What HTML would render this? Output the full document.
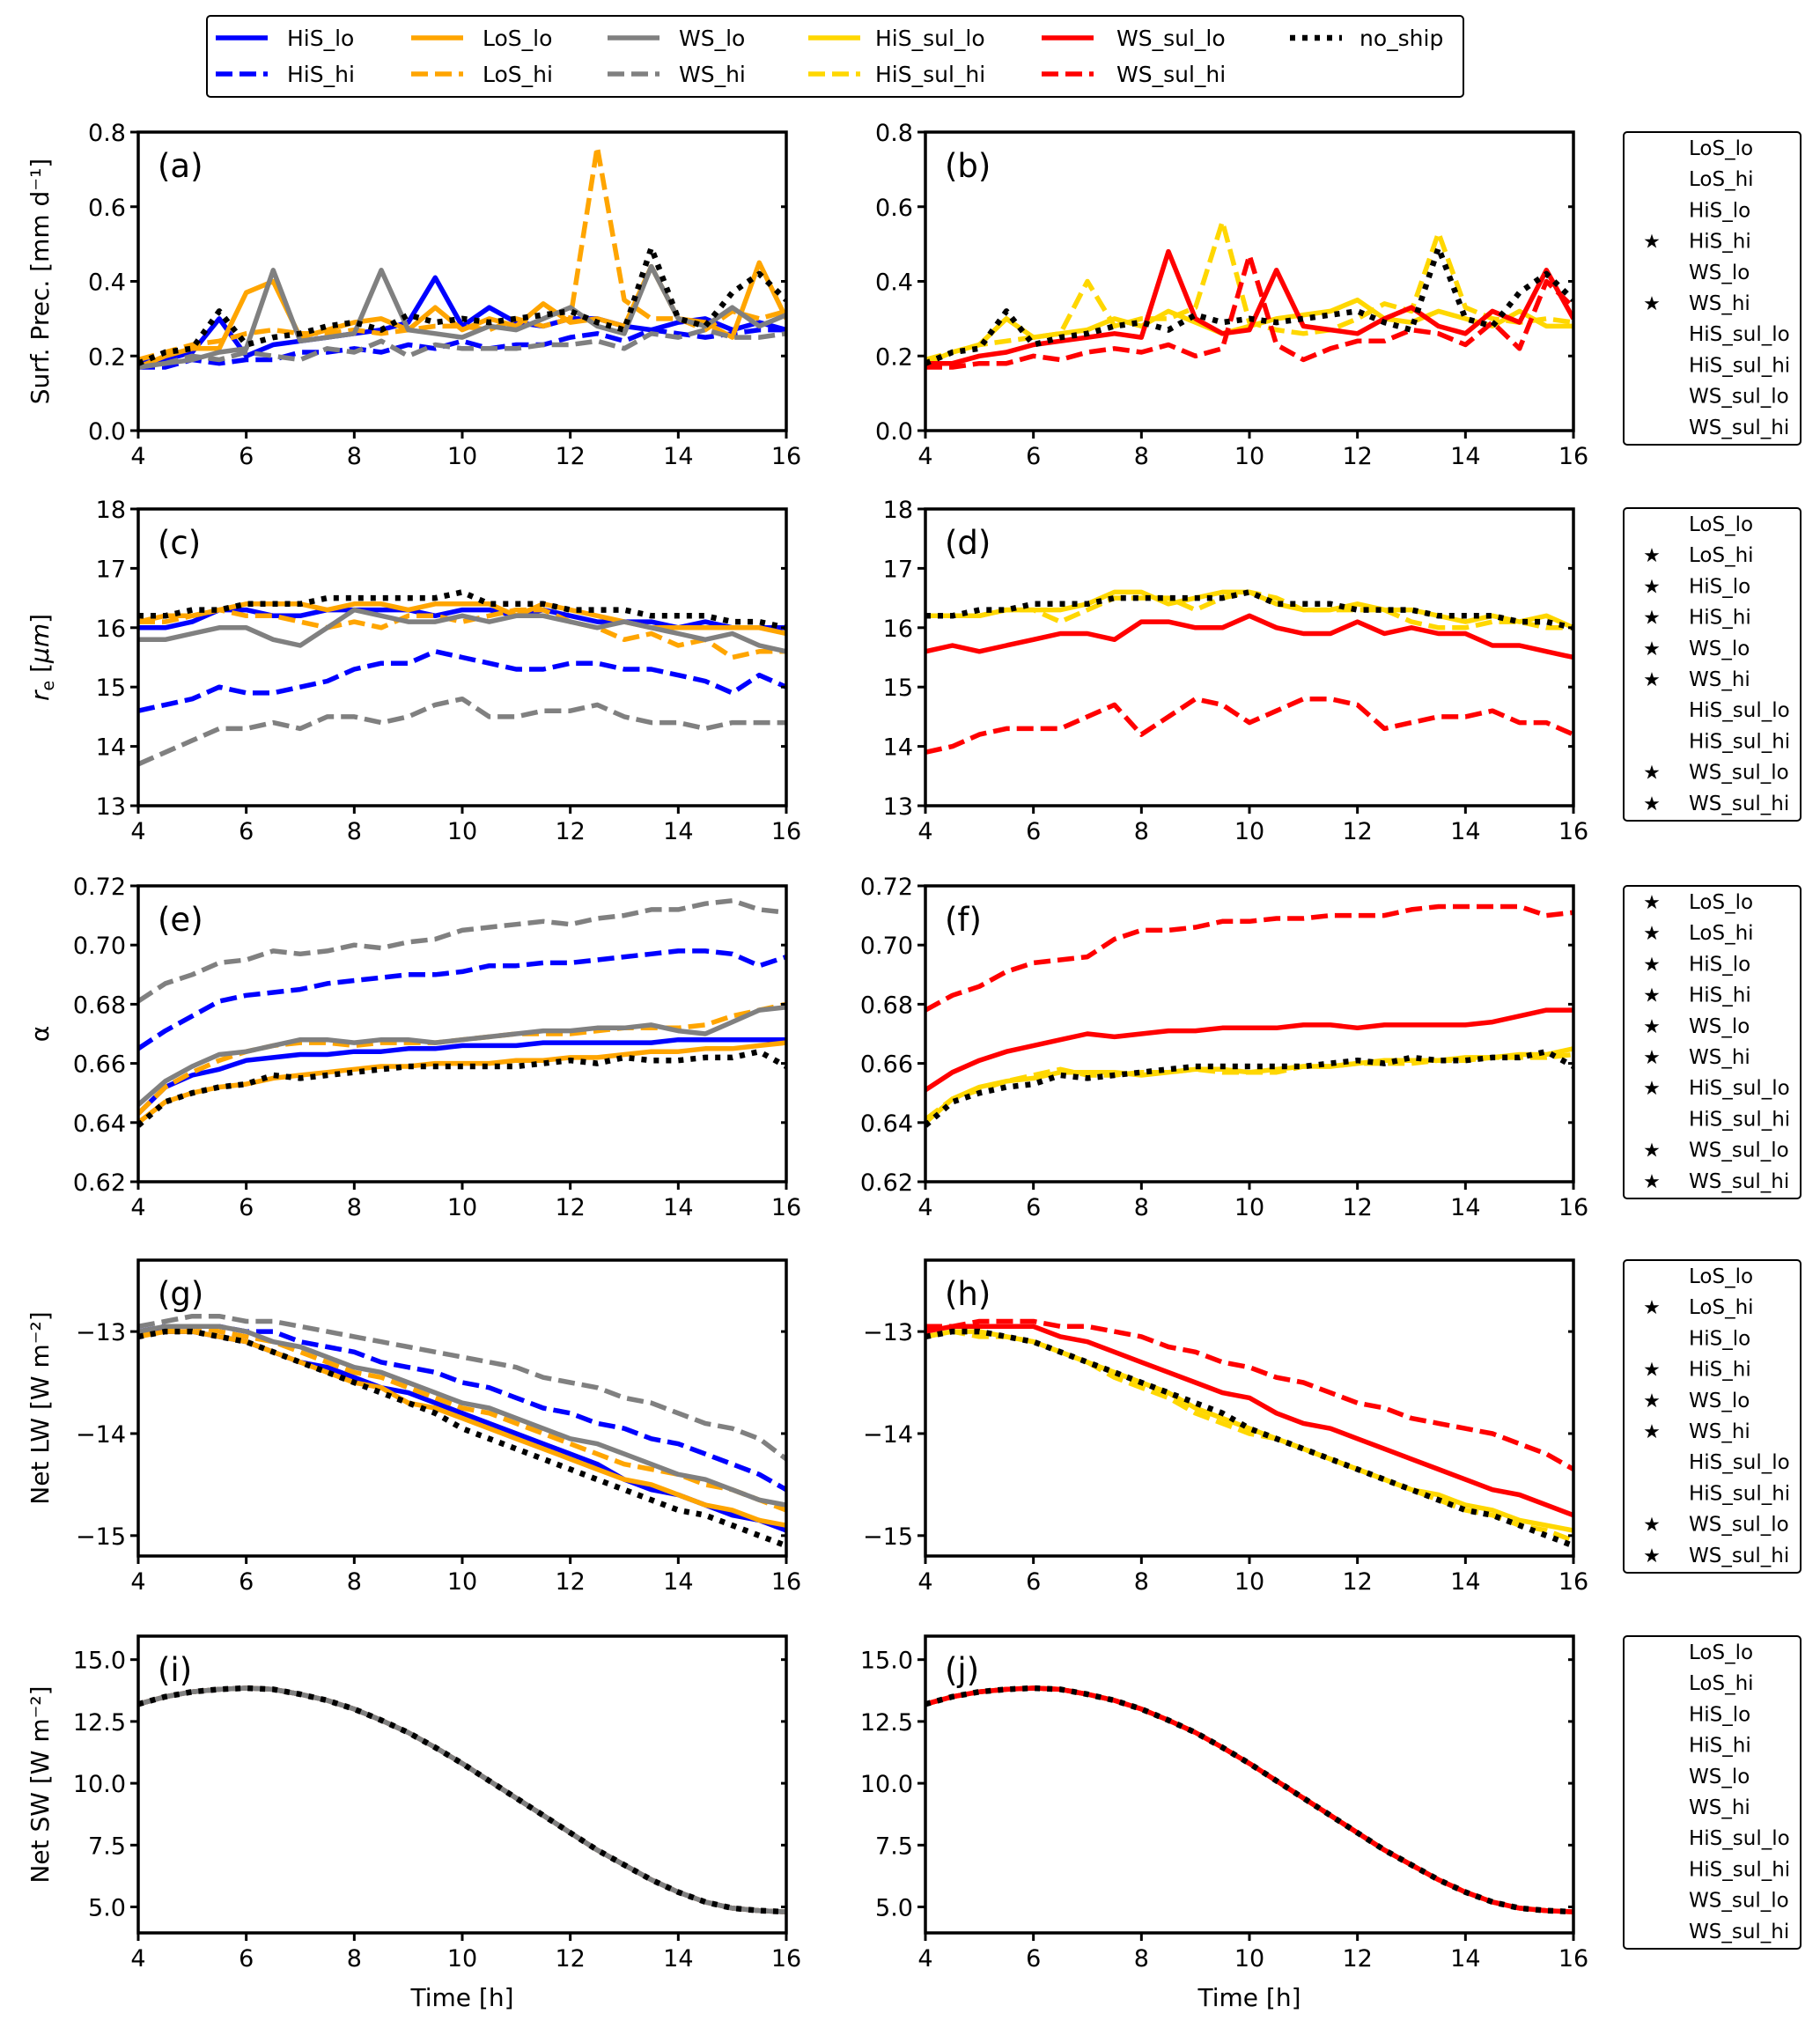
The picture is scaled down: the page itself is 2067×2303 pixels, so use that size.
<!DOCTYPE html>
<html><head><meta charset="utf-8"><style>
html,body{margin:0;padding:0;background:#fff}
svg{display:block}
text{font-family:"DejaVu Sans","Liberation Sans",sans-serif;fill:#000}
</style></head><body>
<svg id="fig" width="2067" height="2303" viewBox="0 0 2067 2303" xmlns="http://www.w3.org/2000/svg"></svg>
<script>
const times=[4,4.5,5,5.5,6,6.5,7,7.5,8,8.5,9,9.5,10,10.5,11,11.5,12,12.5,13,13.5,14,14.5,15,15.5,16];
const xTicks=[4,6,8,10,12,14,16];
// precip
const pa_HiS_lo=[0.18,0.19,0.21,0.30,0.20,0.23,0.24,0.25,0.26,0.27,0.29,0.41,0.28,0.33,0.29,0.28,0.30,0.30,0.28,0.27,0.29,0.30,0.27,0.29,0.27];
const pa_HiS_hi=[0.17,0.17,0.19,0.18,0.19,0.19,0.21,0.21,0.22,0.21,0.23,0.22,0.24,0.22,0.23,0.23,0.25,0.26,0.24,0.27,0.26,0.25,0.26,0.27,0.27];
const pa_LoS_lo=[0.17,0.20,0.22,0.22,0.37,0.40,0.25,0.27,0.29,0.30,0.27,0.33,0.27,0.30,0.28,0.34,0.29,0.30,0.28,0.44,0.30,0.29,0.25,0.45,0.30];
const pa_LoS_hi=[0.19,0.21,0.23,0.24,0.26,0.27,0.26,0.26,0.27,0.26,0.27,0.28,0.28,0.27,0.30,0.28,0.30,0.76,0.35,0.30,0.30,0.27,0.32,0.30,0.32];
const pa_WS_lo=[0.17,0.18,0.19,0.21,0.22,0.43,0.24,0.25,0.26,0.43,0.27,0.26,0.25,0.28,0.27,0.30,0.33,0.28,0.26,0.44,0.30,0.28,0.33,0.28,0.31];
const pa_WS_hi=[0.17,0.18,0.20,0.19,0.21,0.20,0.19,0.22,0.21,0.24,0.20,0.23,0.22,0.22,0.22,0.23,0.23,0.24,0.22,0.26,0.25,0.27,0.25,0.25,0.26];
const p_no_ship=[0.18,0.21,0.22,0.32,0.23,0.25,0.26,0.28,0.29,0.27,0.31,0.29,0.30,0.29,0.30,0.31,0.32,0.29,0.27,0.49,0.30,0.28,0.37,0.42,0.35];
const pb_HiS_sul_lo=[0.18,0.21,0.23,0.30,0.25,0.26,0.27,0.30,0.28,0.32,0.29,0.26,0.28,0.30,0.31,0.32,0.35,0.30,0.29,0.32,0.30,0.28,0.32,0.28,0.28];
const pb_HiS_sul_hi=[0.19,0.21,0.23,0.24,0.25,0.26,0.40,0.28,0.30,0.30,0.33,0.56,0.29,0.27,0.26,0.27,0.30,0.34,0.32,0.53,0.33,0.30,0.29,0.30,0.29];
const pb_WS_sul_lo=[0.18,0.18,0.20,0.21,0.23,0.24,0.25,0.26,0.25,0.48,0.30,0.26,0.27,0.43,0.28,0.27,0.26,0.30,0.33,0.28,0.26,0.32,0.29,0.43,0.30];
const pb_WS_sul_hi=[0.17,0.17,0.18,0.18,0.20,0.19,0.21,0.22,0.21,0.23,0.20,0.22,0.47,0.23,0.19,0.22,0.24,0.24,0.27,0.26,0.23,0.29,0.22,0.40,0.33];
// re
const rc_HiS_lo=[16.0,16.0,16.1,16.3,16.3,16.2,16.2,16.3,16.3,16.3,16.3,16.2,16.3,16.3,16.2,16.3,16.2,16.1,16.1,16.1,16.0,16.1,16.0,16.0,16.0];
const rc_HiS_hi=[14.6,14.7,14.8,15.0,14.9,14.9,15.0,15.1,15.3,15.4,15.4,15.6,15.5,15.4,15.3,15.3,15.4,15.4,15.3,15.3,15.2,15.1,14.9,15.2,15.0];
const rc_LoS_lo=[16.1,16.2,16.2,16.3,16.4,16.4,16.4,16.3,16.4,16.4,16.3,16.4,16.4,16.4,16.2,16.4,16.3,16.2,16.1,16.0,16.0,16.0,16.0,16.0,15.9];
const rc_LoS_hi=[16.1,16.1,16.2,16.3,16.2,16.2,16.1,16.0,16.1,16.0,16.2,16.2,16.1,16.2,16.3,16.3,16.1,16.0,15.8,15.9,15.7,15.8,15.5,15.6,15.6];
const rc_WS_lo=[15.8,15.8,15.9,16.0,16.0,15.8,15.7,16.0,16.3,16.2,16.1,16.1,16.2,16.1,16.2,16.2,16.1,16.0,16.1,16.0,15.9,15.8,15.9,15.7,15.6];
const rc_WS_hi=[13.7,13.9,14.1,14.3,14.3,14.4,14.3,14.5,14.5,14.4,14.5,14.7,14.8,14.5,14.5,14.6,14.6,14.7,14.5,14.4,14.4,14.3,14.4,14.4,14.4];
const r_no_ship=[16.2,16.2,16.3,16.3,16.4,16.4,16.4,16.5,16.5,16.5,16.5,16.5,16.6,16.4,16.4,16.4,16.3,16.3,16.3,16.2,16.2,16.2,16.1,16.1,16.0];
const rd_HiS_sul_lo=[16.2,16.2,16.2,16.3,16.3,16.3,16.4,16.6,16.6,16.4,16.5,16.6,16.6,16.4,16.3,16.3,16.4,16.3,16.3,16.2,16.1,16.2,16.1,16.2,16.0];
const rd_HiS_sul_hi=[16.2,16.2,16.2,16.3,16.3,16.1,16.3,16.5,16.5,16.5,16.3,16.5,16.6,16.5,16.3,16.3,16.3,16.3,16.1,16.0,16.0,16.1,16.1,16.0,16.0];
const rd_WS_sul_lo=[15.6,15.7,15.6,15.7,15.8,15.9,15.9,15.8,16.1,16.1,16.0,16.0,16.2,16.0,15.9,15.9,16.1,15.9,16.0,15.9,15.9,15.7,15.7,15.6,15.5];
const rd_WS_sul_hi=[13.9,14.0,14.2,14.3,14.3,14.3,14.5,14.7,14.2,14.5,14.8,14.7,14.4,14.6,14.8,14.8,14.7,14.3,14.4,14.5,14.5,14.6,14.4,14.4,14.2];
// albedo
const ae_HiS_lo=[.643,.652,.656,.658,.661,.662,.663,.663,.664,.664,.665,.665,.666,.666,.666,.667,.667,.667,.667,.667,.668,.668,.668,.668,.668];
const ae_HiS_hi=[.665,.671,.676,.681,.683,.684,.685,.687,.688,.689,.690,.690,.691,.693,.693,.694,.694,.695,.696,.697,.698,.698,.697,.693,.696];
const ae_LoS_lo=[.640,.647,.650,.652,.653,.655,.656,.657,.658,.659,.659,.660,.660,.660,.661,.661,.662,.662,.663,.664,.664,.665,.665,.666,.667];
const ae_LoS_hi=[.643,.652,.657,.661,.664,.666,.667,.667,.666,.667,.667,.667,.668,.669,.670,.670,.670,.671,.672,.672,.672,.673,.676,.678,.680];
const ae_WS_lo=[.646,.654,.659,.663,.664,.666,.668,.668,.667,.668,.668,.667,.668,.669,.670,.671,.671,.672,.672,.673,.671,.670,.674,.678,.679];
const ae_WS_hi=[.681,.687,.690,.694,.695,.698,.697,.698,.700,.699,.701,.702,.705,.706,.707,.708,.707,.709,.710,.712,.712,.714,.715,.712,.711];
const a_no_ship=[.639,.647,.650,.652,.653,.656,.655,.656,.657,.658,.659,.659,.659,.659,.659,.660,.661,.660,.662,.661,.661,.662,.662,.664,.659];
const af_HiS_sul_lo=[.640,.648,.652,.654,.655,.657,.657,.657,.656,.657,.658,.658,.657,.658,.659,.659,.660,.661,.661,.661,.662,.662,.663,.663,.665];
const af_HiS_sul_hi=[.641,.648,.651,.654,.656,.658,.656,.656,.657,.657,.658,.657,.657,.657,.659,.659,.660,.660,.660,.661,.661,.662,.662,.662,.663];
const af_WS_sul_lo=[.651,.657,.661,.664,.666,.668,.670,.669,.670,.671,.671,.672,.672,.672,.673,.673,.672,.673,.673,.673,.673,.674,.676,.678,.678];
const af_WS_sul_hi=[.678,.683,.686,.691,.694,.695,.696,.702,.705,.705,.706,.708,.708,.709,.709,.710,.710,.710,.712,.713,.713,.713,.713,.710,.711];
// LW
const lg_HiS_lo=[-13.0,-13.0,-13.0,-13.05,-13.1,-13.2,-13.3,-13.35,-13.45,-13.55,-13.6,-13.7,-13.8,-13.9,-14.0,-14.1,-14.2,-14.3,-14.45,-14.55,-14.6,-14.7,-14.8,-14.85,-14.95];
const lg_HiS_hi=[-13.0,-12.95,-12.95,-12.95,-13.0,-13.0,-13.1,-13.15,-13.2,-13.3,-13.35,-13.4,-13.5,-13.55,-13.65,-13.75,-13.8,-13.9,-13.95,-14.05,-14.1,-14.2,-14.3,-14.4,-14.55];
const lg_LoS_lo=[-13.05,-13.0,-13.0,-13.05,-13.1,-13.2,-13.3,-13.4,-13.5,-13.55,-13.7,-13.75,-13.85,-13.95,-14.05,-14.15,-14.25,-14.35,-14.45,-14.5,-14.6,-14.7,-14.75,-14.85,-14.9];
const lg_LoS_hi=[-13.0,-13.0,-12.95,-13.0,-13.05,-13.1,-13.2,-13.3,-13.4,-13.45,-13.55,-13.65,-13.75,-13.8,-13.9,-14.0,-14.1,-14.2,-14.3,-14.35,-14.4,-14.5,-14.55,-14.65,-14.75];
const lg_WS_lo=[-13.0,-12.95,-12.95,-12.95,-13.0,-13.1,-13.15,-13.25,-13.35,-13.4,-13.5,-13.6,-13.7,-13.75,-13.85,-13.95,-14.05,-14.1,-14.2,-14.3,-14.4,-14.45,-14.55,-14.65,-14.7];
const lg_WS_hi=[-12.95,-12.9,-12.85,-12.85,-12.9,-12.9,-12.95,-13.0,-13.05,-13.1,-13.15,-13.2,-13.25,-13.3,-13.35,-13.45,-13.5,-13.55,-13.65,-13.7,-13.8,-13.9,-13.95,-14.05,-14.25];
const l_no_ship=[-13.05,-13.0,-13.0,-13.05,-13.1,-13.2,-13.3,-13.4,-13.5,-13.6,-13.7,-13.8,-13.95,-14.05,-14.15,-14.25,-14.35,-14.45,-14.55,-14.65,-14.75,-14.8,-14.9,-15.0,-15.1];
const lh_HiS_sul_lo=[-13.05,-13.0,-13.0,-13.05,-13.1,-13.2,-13.3,-13.4,-13.5,-13.6,-13.75,-13.85,-13.95,-14.05,-14.15,-14.25,-14.35,-14.45,-14.55,-14.6,-14.7,-14.75,-14.85,-14.9,-14.95];
const lh_HiS_sul_hi=[-13.05,-13.0,-13.05,-13.05,-13.1,-13.2,-13.3,-13.45,-13.55,-13.65,-13.8,-13.9,-14.0,-14.05,-14.15,-14.25,-14.35,-14.45,-14.55,-14.65,-14.75,-14.8,-14.9,-14.95,-15.05];
const lh_WS_sul_lo=[-13.0,-12.95,-12.95,-12.95,-12.95,-13.05,-13.1,-13.2,-13.3,-13.4,-13.5,-13.6,-13.65,-13.8,-13.9,-13.95,-14.05,-14.15,-14.25,-14.35,-14.45,-14.55,-14.6,-14.7,-14.8];
const lh_WS_sul_hi=[-12.95,-12.95,-12.9,-12.9,-12.9,-12.95,-12.95,-13.0,-13.05,-13.15,-13.2,-13.3,-13.35,-13.45,-13.5,-13.6,-13.7,-13.75,-13.85,-13.9,-13.95,-14.0,-14.1,-14.2,-14.35];
// SW (all experiments nearly identical)
const sw_values=[13.2,13.5,13.7,13.8,13.85,13.8,13.6,13.35,13.0,12.55,12.05,11.45,10.8,10.1,9.4,8.7,8.0,7.3,6.7,6.1,5.6,5.2,4.95,4.85,4.8];

const NS="http://www.w3.org/2000/svg";
const svg=document.getElementById('fig');
function el(tag,attrs,parent){const e=document.createElementNS(NS,tag);for(const k in attrs)e.setAttribute(k,attrs[k]);(parent||svg).appendChild(e);return e;}

const DASH='19,8',DOT='6,8';
const styles={
 HiS_lo:{c:'#0000ff',d:null},HiS_hi:{c:'#0000ff',d:DASH},
 LoS_lo:{c:'#ffa500',d:null},LoS_hi:{c:'#ffa500',d:DASH},
 WS_lo:{c:'#808080',d:null},WS_hi:{c:'#808080',d:DASH},
 HiS_sul_lo:{c:'#ffd700',d:null},HiS_sul_hi:{c:'#ffd700',d:DASH},
 WS_sul_lo:{c:'#ff0000',d:null},WS_sul_hi:{c:'#ff0000',d:DASH},
 no_ship:{c:'#000000',d:DOT}
};
const colL=157,colR=893,colL2=1051,colR2=1787;
const rows=[[150,489],[578,915],[1006,1342],[1431,1767],[1858,2195]];
const panels=[
 {id:'a',col:0,row:0,ymin:0,ymax:0.8,ticks:[0,0.2,0.4,0.6,0.8],fmt:v=>v.toFixed(1),series:{HiS_lo:pa_HiS_lo,HiS_hi:pa_HiS_hi,LoS_lo:pa_LoS_lo,LoS_hi:pa_LoS_hi,WS_lo:pa_WS_lo,WS_hi:pa_WS_hi,no_ship:p_no_ship}},
 {id:'b',col:1,row:0,ymin:0,ymax:0.8,ticks:[0,0.2,0.4,0.6,0.8],fmt:v=>v.toFixed(1),series:{HiS_sul_lo:pb_HiS_sul_lo,HiS_sul_hi:pb_HiS_sul_hi,WS_sul_lo:pb_WS_sul_lo,WS_sul_hi:pb_WS_sul_hi,no_ship:p_no_ship}},
 {id:'c',col:0,row:1,ymin:13,ymax:18,ticks:[13,14,15,16,17,18],fmt:v=>String(v),series:{HiS_lo:rc_HiS_lo,HiS_hi:rc_HiS_hi,LoS_lo:rc_LoS_lo,LoS_hi:rc_LoS_hi,WS_lo:rc_WS_lo,WS_hi:rc_WS_hi,no_ship:r_no_ship}},
 {id:'d',col:1,row:1,ymin:13,ymax:18,ticks:[13,14,15,16,17,18],fmt:v=>String(v),series:{HiS_sul_lo:rd_HiS_sul_lo,HiS_sul_hi:rd_HiS_sul_hi,WS_sul_lo:rd_WS_sul_lo,WS_sul_hi:rd_WS_sul_hi,no_ship:r_no_ship}},
 {id:'e',col:0,row:2,ymin:0.62,ymax:0.72,ticks:[0.62,0.64,0.66,0.68,0.70,0.72],fmt:v=>v.toFixed(2),series:{HiS_lo:ae_HiS_lo,HiS_hi:ae_HiS_hi,LoS_lo:ae_LoS_lo,LoS_hi:ae_LoS_hi,WS_lo:ae_WS_lo,WS_hi:ae_WS_hi,no_ship:a_no_ship}},
 {id:'f',col:1,row:2,ymin:0.62,ymax:0.72,ticks:[0.62,0.64,0.66,0.68,0.70,0.72],fmt:v=>v.toFixed(2),series:{HiS_sul_lo:af_HiS_sul_lo,HiS_sul_hi:af_HiS_sul_hi,WS_sul_lo:af_WS_sul_lo,WS_sul_hi:af_WS_sul_hi,no_ship:a_no_ship}},
 {id:'g',col:0,row:3,ymin:-15.2,ymax:-12.3,ticks:[-15,-14,-13],fmt:v=>'\u2212'+Math.abs(v),series:{HiS_lo:lg_HiS_lo,HiS_hi:lg_HiS_hi,LoS_lo:lg_LoS_lo,LoS_hi:lg_LoS_hi,WS_lo:lg_WS_lo,WS_hi:lg_WS_hi,no_ship:l_no_ship}},
 {id:'h',col:1,row:3,ymin:-15.2,ymax:-12.3,ticks:[-15,-14,-13],fmt:v=>'\u2212'+Math.abs(v),series:{HiS_sul_lo:lh_HiS_sul_lo,HiS_sul_hi:lh_HiS_sul_hi,WS_sul_lo:lh_WS_sul_lo,WS_sul_hi:lh_WS_sul_hi,no_ship:l_no_ship}},
 {id:'i',col:0,row:4,ymin:3.95,ymax:15.95,ticks:[5,7.5,10,12.5,15],fmt:v=>v.toFixed(1),series:{HiS_lo:sw_values,HiS_hi:sw_values,LoS_lo:sw_values,LoS_hi:sw_values,WS_lo:sw_values,WS_hi:sw_values,no_ship:sw_values}},
 {id:'j',col:1,row:4,ymin:3.95,ymax:15.95,ticks:[5,7.5,10,12.5,15],fmt:v=>v.toFixed(1),series:{HiS_sul_lo:sw_values,HiS_sul_hi:sw_values,WS_sul_lo:sw_values,WS_sul_hi:sw_values,no_ship:sw_values}}
];
const yTitles=['Surf. Prec. [mm d\u207B\u00B9]',null,'r_e',null,'\u03B1',null,'Net LW [W m\u207B\u00B2]',null,'Net SW [W m\u207B\u00B2]',null];

const defs=el('defs',{});
panels.forEach((p,i)=>{
 const L=p.col?colL2:colL,R=p.col?colR2:colR,T=rows[p.row][0],B=rows[p.row][1];
 const xs=t=>L+(t-4)/12*(R-L);
 const ys=v=>B-(v-p.ymin)/(p.ymax-p.ymin)*(B-T);
 const g=el('g',{});
 
 
 const cp=el('clipPath',{id:'clip'+p.id},defs);
 el('rect',{x:L,y:T,width:R-L,height:B-T},cp);
 const lines=el('g',{'clip-path':'url(#clip'+p.id+')'},g);
 Object.keys(p.series).forEach(k=>{
  const vals=p.series[k];const s=styles[k];
  const d=vals.map((v,j)=>(j?'L':'M')+xs(times[j]).toFixed(1)+','+ys(v).toFixed(1)).join('');
  const path=el('path',{d:d,fill:'none',stroke:s.c,'stroke-width':k==='no_ship'?6.5:5.5,'stroke-linejoin':'round'},lines);
  if(s.d)path.setAttribute('stroke-dasharray',s.d);
  
  
 });
 el('rect',{x:L,y:T,width:R-L,height:B-T,fill:'none',stroke:'#000','stroke-width':3.5},g);
 xTicks.forEach(t=>{
  const x=xs(t);
  el('line',{x1:x,y1:B,x2:x,y2:B+9,stroke:'#000','stroke-width':3},g);
  const tx=el('text',{x:x,y:B+38,'font-size':27,'text-anchor':'middle'},g);tx.textContent=t;
  
  
 });
 p.ticks.forEach(v=>{
  const y=ys(v);
  el('line',{x1:L-9,y1:y,x2:L,y2:y,stroke:'#000','stroke-width':3},g);
  el('line',{x1:R-6,y1:y,x2:R,y2:y,stroke:'#000','stroke-width':3},g);
  const tx=el('text',{x:L-14,y:y+10,'font-size':27,'text-anchor':'end'},g);tx.textContent=p.fmt(v);
  
  
 });
 const lab=el('text',{x:L+22,y:T+51,'font-size':37},g);lab.textContent='('+p.id+')';
 
 
 const yt=yTitles[i];
 if(yt){
  const cy=(T+B)/2;
  const t=el('text',{x:0,y:0,'font-size':28,'text-anchor':'middle',transform:'translate(55,'+cy+') rotate(-90)'},g);
  if(yt==='r_e'){t.innerHTML='<tspan font-style="italic">r</tspan><tspan font-size="19" dy="6">e</tspan><tspan dy="-6"> [</tspan><tspan font-style="italic">\u03BCm</tspan>]';}
  else t.textContent=yt;
  
  
 }
 if(p.row===4){
  const xt=el('text',{x:(L+R)/2,y:2278,'font-size':28,'text-anchor':'middle'},g);xt.textContent='Time [h]';
  
  
 }
});

// top legend
const tl=el('g',{});


el('rect',{x:235,y:18,width:1427,height:92,rx:4,fill:'#fff',stroke:'#000','stroke-width':2},tl);
const legCols=[[245,326,'HiS_lo','HiS_hi'],[467,548,'LoS_lo','LoS_hi'],[690,771,'WS_lo','WS_hi'],[918,994,'HiS_sul_lo','HiS_sul_hi'],[1183,1268,'WS_sul_lo','WS_sul_hi'],[1465,1544,'no_ship',null]];
legCols.forEach(c=>{
 [c[2],c[3]].forEach((k,r)=>{
  if(!k)return;const y=r?84:43;const s=styles[k];
  const ln=el('line',{x1:c[0],y1:y,x2:c[0]+59,y2:y,stroke:s.c,'stroke-width':k==='no_ship'?6.5:5.5},tl);
  if(s.d)ln.setAttribute('stroke-dasharray',s.d);
  const t=el('text',{x:c[1],y:y+9,'font-size':25},tl);t.textContent=k;
  
  
 });
});

// side legends (significance stars)
const names=['LoS_lo','LoS_hi','HiS_lo','HiS_hi','WS_lo','WS_hi','HiS_sul_lo','HiS_sul_hi','WS_sul_lo','WS_sul_hi'];
const starRows=[
 [0,0,0,1,0,1,0,0,0,0],
 [0,1,1,1,1,1,0,0,1,1],
 [1,1,1,1,1,1,1,0,1,1],
 [0,1,0,1,1,1,0,0,1,1],
 [0,0,0,0,0,0,0,0,0,0]
];
const boxTops=[150,577,1006,1431,1858];
boxTops.forEach((bt,r)=>{
 const g=el('g',{});
 
 
 el('rect',{x:1844,y:bt,width:201,height:355,rx:4,fill:'#fff',stroke:'#000','stroke-width':2},g);
 names.forEach((n,j)=>{
  const y=bt+17+j*35.2;
  if(starRows[r][j]){const s=el('text',{x:1876,y:y+9,'font-size':22,'text-anchor':'middle'},g);s.textContent='\u2605';}
  const t=el('text',{x:1918,y:y+9,'font-size':23},g);t.textContent=n;
 });
});
</script>
</body></html>
